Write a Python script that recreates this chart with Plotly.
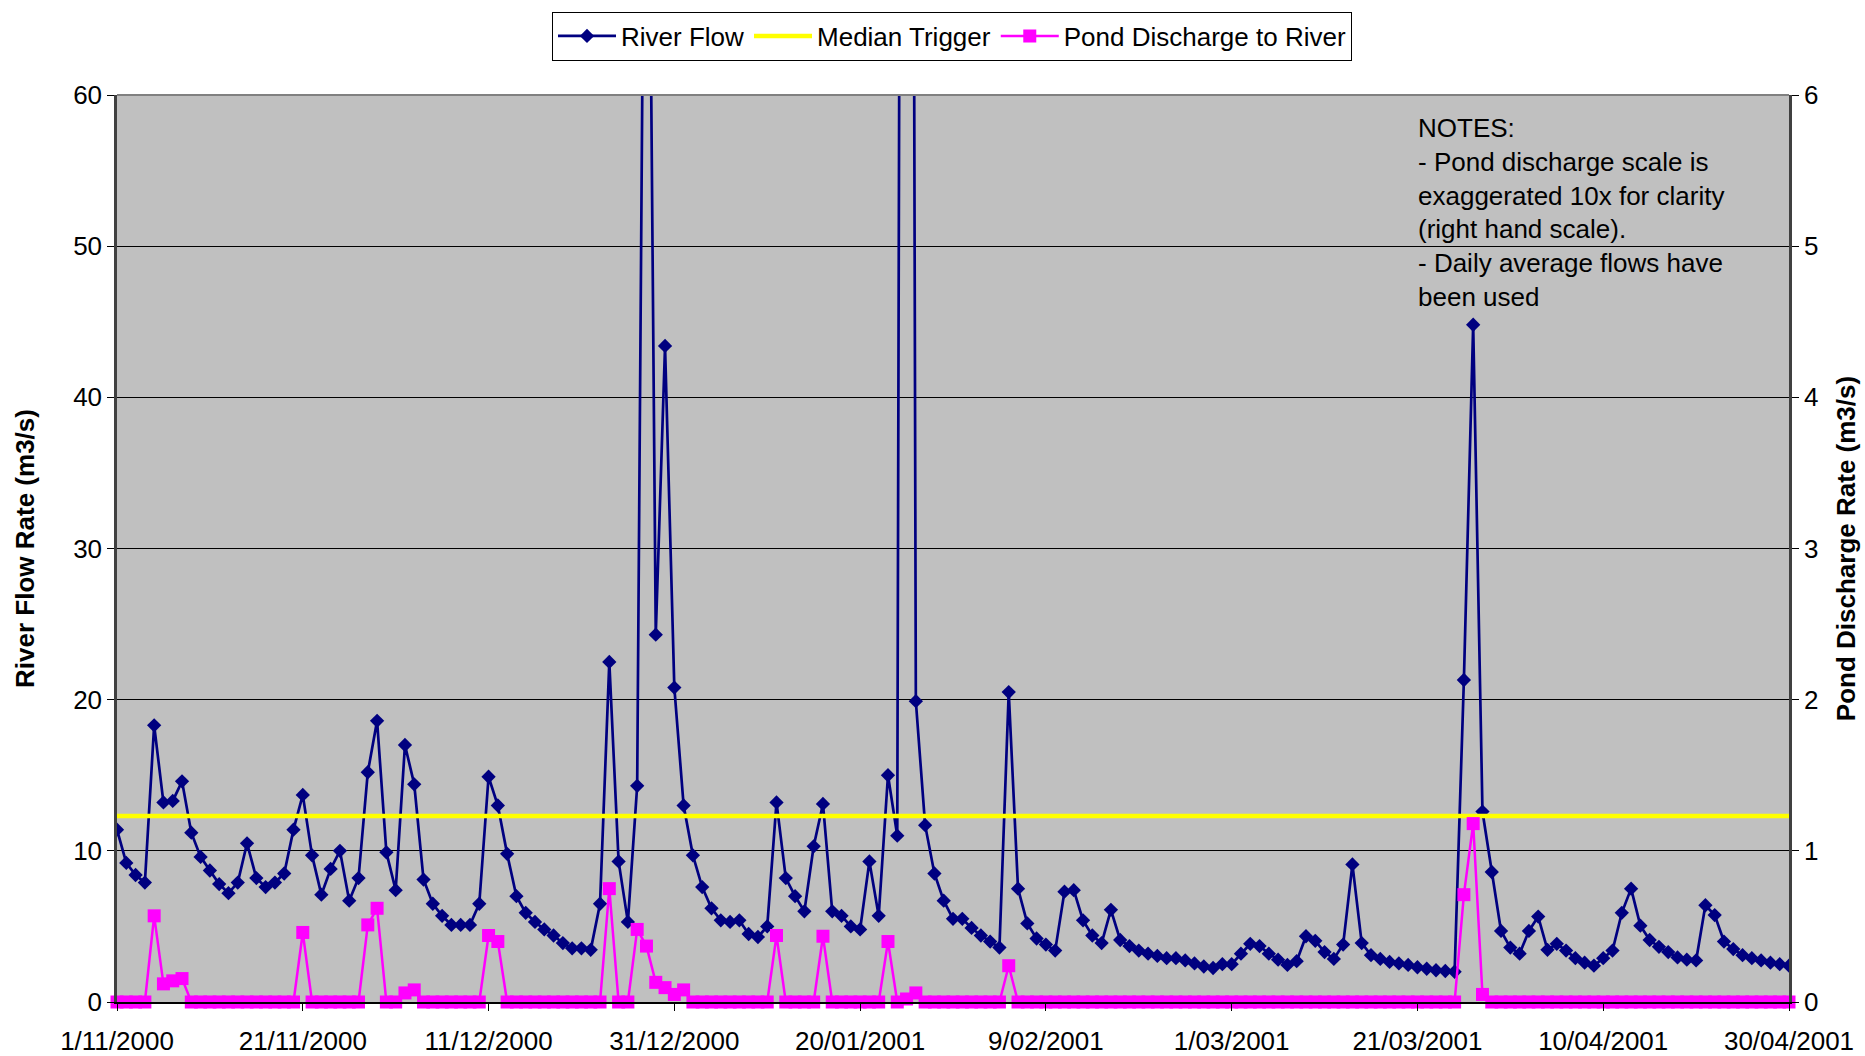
import pandas as pd
import plotly.graph_objects as go

# ---------------- data ----------------
start_date = "2000-11-01"

river_flow = [
    11.4, 9.2, 8.4, 7.9, 18.3, 13.2, 13.3, 14.6, 11.2, 9.6,
    8.7, 7.8, 7.2, 7.9, 10.5, 8.2, 7.6, 7.9, 8.5, 11.4,
    13.7, 9.7, 7.1, 8.8, 10.0, 6.7, 8.2, 15.2, 18.6, 9.9,
    7.4, 17.0, 14.4, 8.1, 6.5, 5.7, 5.1, 5.1, 5.1, 6.5,
    14.9, 13.0, 9.8, 7.0, 5.9, 5.3, 4.8, 4.4, 3.9, 3.55,
    3.55, 3.45, 6.5, 22.5, 9.3, 5.3, 14.3, 98.0, 24.3, 43.4,
    20.8, 13.0, 9.7, 7.6, 6.2, 5.4, 5.3, 5.4, 4.5, 4.3,
    5.0, 13.2, 8.2, 7.0, 6.0, 10.3, 13.1, 6.0, 5.7, 5.0,
    4.8, 9.3, 5.7, 15.0, 11.0, 250.0, 19.9, 11.7, 8.5, 6.7,
    5.5, 5.5, 4.9, 4.4, 4.0, 3.6, 20.5, 7.5, 5.2, 4.2,
    3.8, 3.4, 7.3, 7.4, 5.4, 4.4, 3.9, 6.1, 4.1, 3.7,
    3.4, 3.2, 3.05, 2.9, 2.9, 2.75, 2.55, 2.35, 2.25, 2.5,
    2.5, 3.2, 3.85, 3.7, 3.2, 2.8, 2.45, 2.7, 4.35, 4.05,
    3.3, 2.85, 3.8, 9.1, 3.9, 3.1, 2.85, 2.65, 2.55, 2.45,
    2.3, 2.2, 2.1, 2.05, 2.0, 21.3, 44.8, 12.6, 8.6, 4.7,
    3.6, 3.2, 4.7, 5.65, 3.45, 3.85, 3.4, 2.9, 2.6, 2.4,
    2.9, 3.4, 5.9, 7.5, 5.05, 4.1, 3.65, 3.3, 2.95, 2.8,
    2.75, 6.4, 5.75, 4.0, 3.5, 3.1, 2.9, 2.75, 2.6, 2.5,
    2.4,
]

pond_discharge = [
    0, 0, 0, 0, 0.57, 0.12, 0.14, 0.155, 0, 0,
    0, 0, 0, 0, 0, 0, 0, 0, 0, 0,
    0.46, 0, 0, 0, 0, 0, 0, 0.51, 0.62, 0,
    0, 0.06, 0.08, 0, 0, 0, 0, 0, 0, 0,
    0.44, 0.40, 0, 0, 0, 0, 0, 0, 0, 0,
    0, 0, 0, 0.75, 0, 0, 0.48, 0.37, 0.13, 0.095,
    0.05, 0.08, 0, 0, 0, 0, 0, 0, 0, 0,
    0, 0.44, 0, 0, 0, 0, 0.435, 0, 0, 0,
    0, 0, 0, 0.40, 0, 0.02, 0.06, 0, 0, 0,
    0, 0, 0, 0, 0, 0, 0.24, 0, 0, 0,
    0, 0, 0, 0, 0, 0, 0, 0, 0, 0,
    0, 0, 0, 0, 0, 0, 0, 0, 0, 0,
    0, 0, 0, 0, 0, 0, 0, 0, 0, 0,
    0, 0, 0, 0, 0, 0, 0, 0, 0, 0,
    0, 0, 0, 0, 0, 0.71, 1.18, 0.05, 0, 0,
    0, 0, 0, 0, 0, 0, 0, 0, 0, 0,
    0, 0, 0, 0, 0, 0, 0, 0, 0, 0,
    0, 0, 0, 0, 0, 0, 0, 0, 0, 0,
    0,
]

median_trigger = 12.3

x_tick_dates = ["2000-11-01", "2000-11-21", "2000-12-11", "2000-12-31", "2001-01-20",
                "2001-02-09", "2001-03-01", "2001-03-21", "2001-04-10", "2001-04-30"]
x_tick_labels = ["1/11/2000", "21/11/2000", "11/12/2000", "31/12/2000", "20/01/2001",
                 "9/02/2001", "1/03/2001", "21/03/2001", "10/04/2001", "30/04/2001"]
left_ticks = [0, 10, 20, 30, 40, 50, 60]
right_ticks = [0, 1, 2, 3, 4, 5, 6]

notes_lines = [
    "NOTES:",
    "- Pond discharge scale is",
    "exaggerated 10x for clarity",
    "(right hand scale).",
    "- Daily average flows have",
    "been used",
]

# ---------------- figure ----------------
dates = pd.date_range(start_date, periods=len(river_flow), freq="D")
FONT = "Liberation Sans, Arial, sans-serif"
FS = 26

fig = go.Figure()
fig.add_trace(go.Scatter(
    x=dates, y=river_flow, name="River Flow", mode="lines+markers",
    line=dict(color="#000080", width=2.7),
    marker=dict(symbol="diamond", size=11, color="#000080"),
))
fig.add_trace(go.Scatter(
    x=dates, y=[median_trigger] * len(dates), name="Median Trigger", mode="lines",
    line=dict(color="#FFFF00", width=4.5),
))
fig.add_trace(go.Scatter(
    x=dates, y=pond_discharge, name="Pond Discharge to River", mode="lines+markers",
    yaxis="y2", cliponaxis=False,
    line=dict(color="#FF00FF", width=2.5),
    marker=dict(symbol="square", size=13, color="#FF00FF"),
))

fig.update_layout(
    width=1865, height=1056,
    margin=dict(l=117, r=76, t=95, b=54),
    paper_bgcolor="white", plot_bgcolor="#C0C0C0",
    font=dict(family=FONT, size=FS, color="black"),
    showlegend=True,
    legend=dict(
        orientation="h", x=0.4994, xanchor="center", y=1.092, yanchor="top",
        bordercolor="black", borderwidth=1, bgcolor="white",
        font=dict(size=FS), itemwidth=58, traceorder="normal",
    ),
    xaxis=dict(
        type="date", range=[dates[0], dates[-1]],
        tickvals=x_tick_dates, ticktext=x_tick_labels,
        ticks="outside", ticklen=7, tickcolor="black", tickwidth=1,
        showline=True, linecolor="black", linewidth=1.5,
        showgrid=False, zeroline=False, automargin=False,
        tickfont=dict(size=FS), ticklabelstandoff=8,
    ),
    yaxis=dict(
        range=[0, 60], tickvals=left_ticks,
        ticks="outside", ticklen=7, tickcolor="black",
        showline=True, linecolor="#404040", linewidth=2.5,
        showgrid=True, gridcolor="black", gridwidth=1, zeroline=False,
        automargin=False, tickfont=dict(size=FS),
        title=dict(text="<b>River Flow Rate (m3/s)</b>", font=dict(size=FS), standoff=32),
    ),
    yaxis2=dict(
        overlaying="y", side="right", range=[0, 6], tickvals=right_ticks,
        ticks="outside", ticklen=7, tickcolor="black",
        showline=True, linecolor="#404040", linewidth=2.5,
        showgrid=False, zeroline=False, automargin=False, tickfont=dict(size=FS),
        title=dict(text="<b>Pond Discharge Rate (m3/s)</b>", font=dict(size=FS), standoff=20),
    ),
    shapes=[dict(type="line", xref="paper", yref="paper", x0=0, x1=1, y0=1, y1=1,
                 line=dict(color="#808080", width=2))],
    annotations=[dict(
        xref="paper", yref="paper", x=0.777, y=0.982, xanchor="left", yanchor="top",
        text="<br>".join(notes_lines), showarrow=False, align="left",
        font=dict(size=FS, color="black"),
    )],
)

fig.write_html("out.html", config={"displayModeBar": False},
               post_script="document.body.style.margin='0';")
